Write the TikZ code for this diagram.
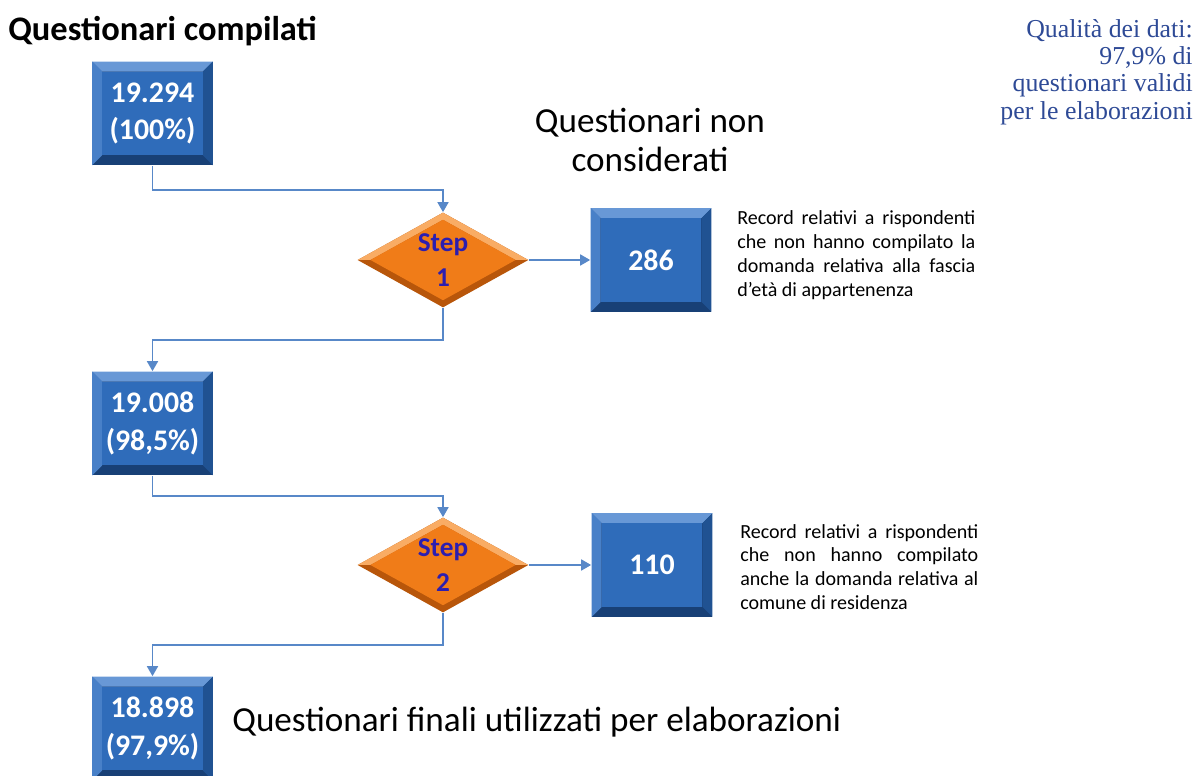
\documentclass[tikz,border=0pt]{standalone}
\usepackage{fontspec}
\setmainfont{Carlito}
\newfontfamily\serifnote{Liberation Serif}
\usetikzlibrary{shapes.geometric,arrows.meta,calc}

\definecolor{boxblue}{RGB}{47,108,186}
\definecolor{boxlight}{RGB}{104,152,214}
\definecolor{boxmid}{RGB}{72,128,200}
\definecolor{boxdark}{RGB}{32,82,146}
\definecolor{boxdeep}{RGB}{24,64,118}
\definecolor{steporange}{RGB}{240,124,24}
\definecolor{steplight}{RGB}{249,172,100}
\definecolor{stepdark}{RGB}{184,86,10}
\definecolor{steptext}{RGB}{44,30,176}
\definecolor{linkblue}{RGB}{88,136,200}
\definecolor{qualblue}{RGB}{46,74,150}

\newcommand\jline[1]{\makebox[4.76cm][s]{#1}}

\begin{document}
\begin{tikzpicture}[x=0.02cm,y=-0.02cm,
  countbox/.style={rectangle,minimum width=2.42cm,minimum height=2.08cm,inner sep=0pt,
    fill=boxdeep,text=white,align=center,font=\bfseries\fontsize{17}{21.5}\selectfont,
    path picture={
      \coordinate (nw) at (path picture bounding box.north west);
      \coordinate (ne) at (path picture bounding box.north east);
      \coordinate (sw) at (path picture bounding box.south west);
      \coordinate (se) at (path picture bounding box.south east);
      \fill[boxlight] (nw) -- (ne) -- ([shift={(-0.2cm,-0.2cm)}]ne) -- ([shift={(0.2cm,-0.2cm)}]nw) -- cycle;
      \fill[boxmid] (nw) -- ([shift={(0.2cm,-0.2cm)}]nw) -- ([shift={(0.2cm,0.2cm)}]sw) -- (sw) -- cycle;
      \fill[boxdark] (ne) -- ([shift={(-0.2cm,-0.2cm)}]ne) -- ([shift={(-0.2cm,0.2cm)}]se) -- (se) -- cycle;
      \fill[boxblue] ([shift={(0.2cm,-0.2cm)}]nw) rectangle ([shift={(-0.2cm,0.2cm)}]se);
    }},
  stepdiam/.style={diamond,aspect=1.8,minimum width=3.42cm,minimum height=1.9cm,inner sep=0pt,
    fill=stepdark,text=steptext,align=center,font=\bfseries\fontsize{15.5}{20}\selectfont,
    path picture={
      \coordinate (c) at (path picture bounding box.center);
      \coordinate (n) at (path picture bounding box.north);
      \coordinate (e) at (path picture bounding box.east);
      \coordinate (s) at (path picture bounding box.south);
      \coordinate (w) at (path picture bounding box.west);
      \fill[steplight] (w) -- (n) -- (e) -- ($(c)!0.85!(e)$) -- ($(c)!0.85!(n)$) -- ($(c)!0.85!(w)$) -- cycle;
      \fill[steporange] ($(c)!0.85!(n)$) -- ($(c)!0.85!(e)$) -- ($(c)!0.85!(s)$) -- ($(c)!0.85!(w)$) -- cycle;
    }},
  link/.style={draw=linkblue,line width=1pt,-{Triangle[length=0.2cm,width=0.22cm]}},
  title/.style={font=\fontsize{20}{22.7}\selectfont,inner sep=0pt},
  note/.style={font=\fontsize{11.4}{13.6}\selectfont,align=left,inner sep=0pt}]
  \useasboundingbox (0,0) rectangle (1197,776);

  % titles
  \node[title,font=\bfseries\fontsize{19.6}{22.7}\selectfont,anchor=west] (tcomp) at (8,31) {Questionari compilati};
  \node[title,align=center] (tnon) at (650,140) {Questionari non\\considerati};
  \node[title,anchor=west] (tfin) at (232,722) {Questionari finali utilizzati per elaborazioni};
  \node[anchor=east,align=right,inner sep=0pt,text=qualblue,
    font=\serifnote\fontsize{14.7}{15.5}\selectfont] (qual) at (1193,72)
    {Qualità dei dati:\\97,9\% di\\questionari validi\\per le elaborazioni};

  % flow
  \node[countbox] (b1) at (152.5,113.5) {19.294\\(100\%)};
  \node[stepdiam] (s1) at (443,260) {Step\\1};
  \node[countbox] (k1) at (651,260) {286};
  \node[countbox] (b2) at (152.5,423.5) {19.008\\(98,5\%)};
  \node[stepdiam] (s2) at (443,565) {Step\\2};
  \node[countbox] (k2) at (652,565) {110};
  \node[countbox] (b3) at (152.5,728.5) {18.898\\(97,9\%)};

  \draw[link] (b1.south) -- ++(0,24) -| (s1.north);
  \draw[link] (s1.east) -- (k1.west);
  \draw[link] (s1.south) -- ++(0,32.5) -| (b2.north);
  \draw[link] (b2.south) -- ++(0,20) -| (s2.north);
  \draw[link] (s2.east) -- (k2.west);
  \draw[link] (s2.south) -- ++(0,32.5) -| (b3.north);

  % notes
  \node[note,anchor=west] (n1) at (737,255)
    {\jline{Record relativi a rispondenti}\\\jline{che non hanno compilato la}\\
     \jline{domanda relativa alla fascia}\\d’età di appartenenza};
  \node[note,anchor=west] (n2) at (740,567)
    {\jline{Record relativi a rispondenti}\\\jline{che non hanno compilato}\\
     \jline{anche la domanda relativa al}\\comune di residenza};
\end{tikzpicture}
\end{document}
